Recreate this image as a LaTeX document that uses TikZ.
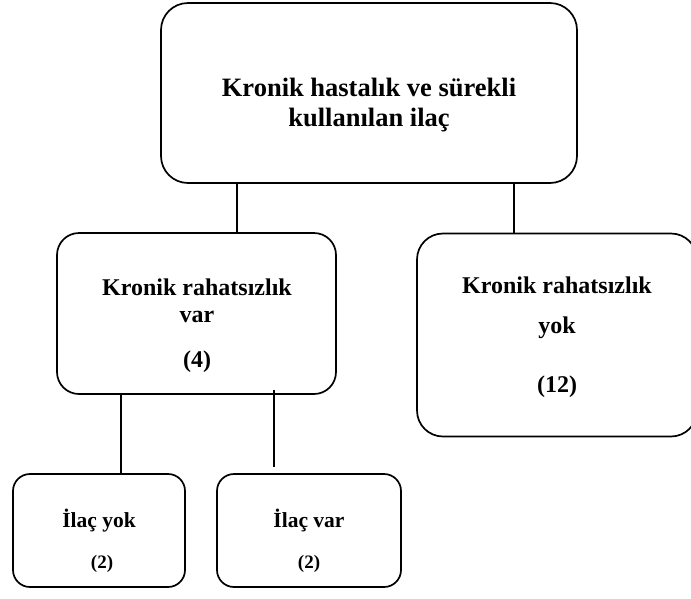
\documentclass[tikz,border=0pt]{standalone}
\usepackage{fontspec}
\setmainfont{Liberation Serif}
\begin{document}
\begin{tikzpicture}[x=1pt,y=-1pt,
  box/.style={draw,line width=1.7pt,rectangle,inner sep=0pt},
  link/.style={line width=1.7pt},
  lbl/.style={anchor=base,inner sep=0pt,font=\bfseries},
  big/.style={lbl,font=\bfseries\fontsize{26.5}{30}\selectfont},
  mid/.style={lbl,font=\bfseries\fontsize{24}{28}\selectfont},
  small/.style={lbl,font=\bfseries\fontsize{21.5}{25}\selectfont},
  tiny/.style={lbl,font=\bfseries\fontsize{19}{22}\selectfont}]
\clip (0,0) rectangle (691,598);

% boxes
\node[box,rounded corners=27pt,minimum width=416pt,minimum height=180pt] (top) at (369,93) {};
\node[box,rounded corners=22pt,minimum width=279pt,minimum height=161pt] (left) at (196.5,313.5) {};
\node[box,rounded corners=26pt,minimum width=280pt,minimum height=203pt] (right) at (557,335) {};
\node[box,rounded corners=17pt,minimum width=172pt,minimum height=113pt] (ily) at (99,530.5) {};
\node[box,rounded corners=17pt,minimum width=184pt,minimum height=113pt] (ilv) at (309,530.5) {};

% labels
\node[big] (t1) at (369,96) {Kronik hastalık ve sürekli};
\node[big] (t2) at (369,126) {kullanılan ilaç};
\node[mid] (l1) at (197,295) {Kronik rahatsızlık};
\node[mid] (l2) at (197,322) {var};
\node[mid] (l3) at (197,367) {(4)};
\node[mid] (r1) at (557,293) {Kronik rahatsızlık};
\node[mid] (r2) at (557,333) {yok};
\node[mid] (r3) at (557,392) {(12)};
\node[small] (b1) at (99,527) {İlaç yok};
\node[tiny] (b2) at (102,568) {(2)};
\node[small] (c1) at (309,527) {İlaç var};
\node[tiny] (c2) at (309,568) {(2)};

% connectors
\coordinate (xl) at (237,0);
\coordinate (xr) at (514,0);
\coordinate (xb) at (121,0);
\draw[link] (xl |- top.south) -- (xl |- left.north);
\draw[link] (xr |- top.south) -- (xr |- right.north);
\draw[link] (xb |- left.south) -- (xb |- ily.north);
\coordinate (sa) at (274,390);
\coordinate (sb) at (274,467);
\draw[link] (sa) -- (sb);
\end{tikzpicture}
\end{document}
